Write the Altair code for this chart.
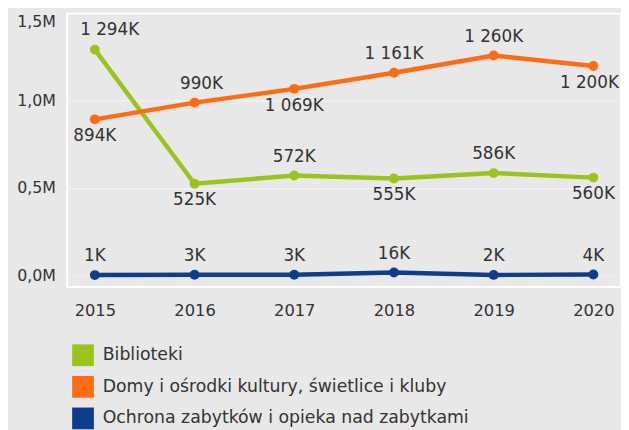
import altair as alt
import pandas as pd

years = ["2015", "2016", "2017", "2018", "2019", "2020"]
series_names = [
    "Biblioteki",
    "Domy i ośrodki kultury, świetlice i kluby",
    "Ochrona zabytków i opieka nad zabytkami",
]
biblioteki = [1294000, 525000, 572000, 555000, 586000, 560000]
domy = [894000, 990000, 1069000, 1161000, 1260000, 1200000]
ochrona = [1000, 3000, 3000, 16000, 2000, 4000]
colors = ["#9bc31d", "#ff6b12", "#0d3d8c"]

# years whose label sits below the point, per series
below = {
    series_names[0]: ["2016", "2018", "2020"],
    series_names[1]: ["2015", "2017", "2020"],
    series_names[2]: [],
}

rows = []
for name, vals in zip(series_names, [biblioteki, domy, ochrona]):
    for y, v in zip(years, vals):
        rows.append({"year": y, "series": name, "value": v,
                     "side": "below" if y in below[name] else "above"})
df = pd.DataFrame(rows)

FONT = "DejaVu Sans"
TXT = "#333333"

x = alt.X("year:O", title=None,
          scale=alt.Scale(type="point", padding=0.277),
          axis=alt.Axis(labelAngle=0, domain=False, ticks=False, grid=False,
                        labelPadding=16, labelFontSize=16.5, labelColor=TXT,
                        labelFont=FONT))
y = alt.Y("value:Q", title=None,
          scale=alt.Scale(domain=[-68000, 1500000], nice=False, zero=False),
          axis=alt.Axis(values=[0, 500000, 1000000, 1500000], domain=False,
                        ticks=False, labelPadding=12, labelFontSize=16,
                        labelColor=TXT, labelFont=FONT,
                        labelBaseline={"condition": {"test": "datum.value === 1500000", "value": "top"}, "value": "middle"},
                        labelExpr="replace(format(datum.value/1000000, '.1f'), '.', ',') + 'M'",
                        gridColor="#f6f6f6", gridWidth=1,
                        gridDash={"condition": {"test": "datum.value === 0", "value": [2, 2]}, "value": []}))

legend = alt.Legend(title=None, orient="none", legendX=5, legendY=335,
                    symbolType="square", symbolSize=484,
                    symbolStrokeWidth=0, labelFontSize=17.5,
                    labelFont=FONT, labelColor=TXT,
                    labelOffset=9, rowPadding=10,
                    labelLimit=600)
color = alt.Color("series:N", scale=alt.Scale(domain=series_names, range=colors), legend=legend)

base = alt.Chart(df)
lines = base.mark_line(strokeWidth=4.5).encode(x=x, y=y, color=color)
points = base.mark_point(filled=True, size=100, opacity=1).encode(x=x, y=y, color=color)

label_expr = "replace(format(datum.value/1000, ',.0f'), ',', ' ') + 'K'"
lab = base.transform_calculate(lab=label_expr)
text_kw = dict(font=FONT, fontSize=17, color=TXT, baseline="middle")

is_b15 = "(datum.year === '2015' && datum.series === '%s')" % series_names[0]
is_d16 = "(datum.year === '2016' && datum.series === '%s')" % series_names[1]
is_d20 = "(datum.year === '2020' && datum.series === '%s')" % series_names[1]

above_normal = lab.transform_filter(
    "datum.side === 'above' && !%s && !%s" % (is_b15, is_d16)
).mark_text(dy=-19, **text_kw).encode(x=x, y=y, text="lab:N")
above_nudge1 = lab.transform_filter(is_b15).mark_text(
    dy=-20, dx=15, **text_kw).encode(x=x, y=y, text="lab:N")
above_nudge2 = lab.transform_filter(is_d16).mark_text(
    dy=-19, dx=7, **text_kw).encode(x=x, y=y, text="lab:N")
below_t = lab.transform_filter("datum.side === 'below' && !%s" % is_d20).mark_text(
    dy=17, **text_kw).encode(x=x, y=y, text="lab:N")
below_nudge = lab.transform_filter(is_d20).mark_text(
    dy=17, dx=-4, **text_kw).encode(x=x, y=y, text="lab:N")

chart = alt.layer(lines, points, above_normal, above_nudge1, above_nudge2,
                  below_t, below_nudge).properties(
    width=561, height=277,
    autosize=alt.AutoSizeParams(type="none"),
    padding={"left": 60, "top": 3, "right": 0, "bottom": 142},
    background="#e8e8e8",
).configure_view(stroke="#ffffff", strokeWidth=2, fill="#e8e8e8")

chart.save("out.html", embed_options={"renderer": "svg", "actions": False})
